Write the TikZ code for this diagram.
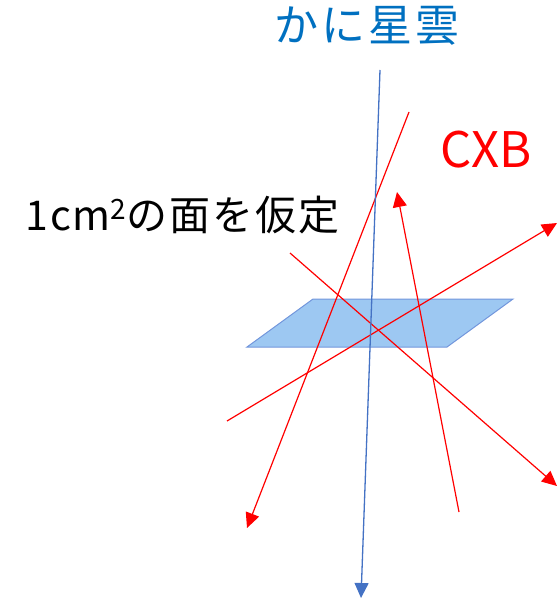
\documentclass[tikz,border=0pt]{standalone}
\usepackage{fontspec}
\setmainfont{Noto Sans CJK JP}
\newfontfamily\jpfont{Noto Sans CJK JP}
\usetikzlibrary{arrows.meta}
\definecolor{rayred}{RGB}{255,0,0}
\definecolor{crabblue}{RGB}{68,114,196}
\definecolor{titleblue}{RGB}{0,112,192}
\definecolor{planefill}{RGB}{157,200,242}
\definecolor{planeedge}{RGB}{114,150,220}
\tikzset{
  ray/.style={draw=rayred, line width=1.2pt, -{Triangle[length=15pt,width=14pt]}},
  crab/.style={draw=crabblue, line width=1.3pt, -{Triangle[length=15pt,width=14pt]}},
  lbl/.style={inner sep=0pt, anchor=base west, font=\jpfont}
}
\begin{document}
\begin{tikzpicture}[x=1pt,y=-1pt]
\useasboundingbox (0,0) rectangle (558,599);
% plane
\coordinate (p1) at (313,299);
\coordinate (p2) at (513,299);
\coordinate (p3) at (447,347);
\coordinate (p4) at (247,347);
\path[fill=planefill, draw=planeedge, line width=1pt] (p1) -- (p2) -- (p3) -- (p4) -- cycle;
% red rays
\coordinate (a1) at (409,112); \coordinate (a2) at (247,528);
\coordinate (b1) at (459,512); \coordinate (b2) at (397,192);
\coordinate (c1) at (227,421); \coordinate (c2) at (557,223);
\coordinate (d1) at (290,253); \coordinate (d2) at (557,486);
\draw[ray] (a1) -- (a2);
\draw[ray] (b1) -- (b2);
\draw[ray] (c1) -- (c2);
\draw[ray] (d1) -- (d2);
% blue ray
\coordinate (e1) at (380,70); \coordinate (e2) at (361,598);
\draw[crab] (e1) -- (e2);
% labels
\node[lbl, text=titleblue, font=\jpfont\fontsize{44}{44}\selectfont\addfontfeature{LetterSpace=7}] (crab) at (274,42) {かに星雲};
\node[lbl, text=rayred, font=\jpfont\fontsize{49}{49}\selectfont] (cxb) at (440,167) {CXB};
\node[lbl, text=black, font=\jpfont\fontsize{41}{41}\selectfont\addfontfeature{LetterSpace=5}] (area) at (25,230) {1cm\raisebox{11pt}{\fontsize{28}{28}\selectfont 2}の面を仮定};
\end{tikzpicture}
\end{document}
